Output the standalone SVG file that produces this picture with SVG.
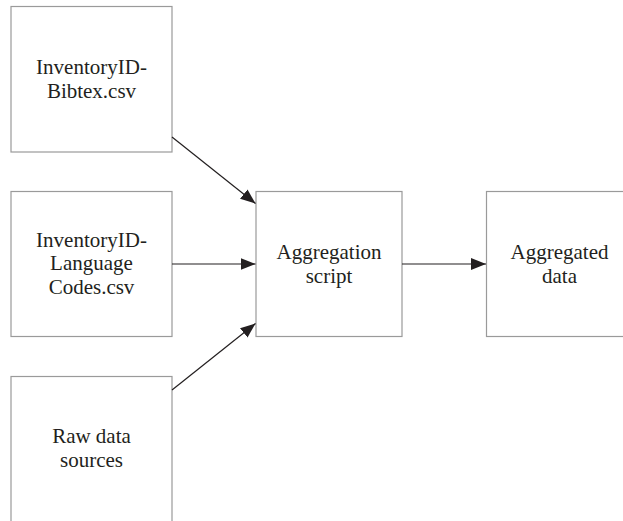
<svg xmlns="http://www.w3.org/2000/svg" width="623" height="521" viewBox="0 0 623 521">
<style>
.box{fill:#fff;stroke:#9a9a9a;stroke-width:1.2}
.lbl{font-family:"Liberation Serif","Times New Roman",serif;font-size:21px;fill:#231f20;text-anchor:middle}
.edge{stroke:#231f20;stroke-width:1.2;fill:none;marker-end:url(#ah)}
</style>
<defs>
<marker id="ah" markerUnits="userSpaceOnUse" markerWidth="16" markerHeight="12" refX="15" refY="6" orient="auto">
<path d="M0,0 L15,6 L0,12 Z" fill="#231f20"/>
</marker>
</defs>
<rect width="623" height="521" fill="#fff"/>
<g id="bibtex">
<rect class="box" x="11" y="6.5" width="161" height="145.5"/>
<text class="lbl" x="91.5" y="74">InventoryID-</text>
<text class="lbl" x="91.5" y="98">Bibtex.csv</text>
</g>
<g id="langcodes">
<rect class="box" x="11" y="191.5" width="161" height="145"/>
<text class="lbl" x="91.5" y="246.5">InventoryID-</text>
<text class="lbl" x="91.5" y="270">Language</text>
<text class="lbl" x="91.5" y="293.5">Codes.csv</text>
</g>
<g id="raw">
<rect class="box" x="11" y="376.5" width="161" height="146"/>
<text class="lbl" x="91.5" y="443">Raw data</text>
<text class="lbl" x="91.5" y="467">sources</text>
</g>
<g id="script">
<rect class="box" x="256" y="191.5" width="146" height="145"/>
<text class="lbl" x="329" y="259">Aggregation</text>
<text class="lbl" x="329" y="283">script</text>
</g>
<g id="aggdata">
<rect class="box" x="486.5" y="191.5" width="146" height="145"/>
<text class="lbl" x="559.5" y="259">Aggregated</text>
<text class="lbl" x="559.5" y="283">data</text>
</g>
<g id="connectors">
<line class="edge" x1="172" y1="137" x2="255.5" y2="203.5"/>
<line class="edge" x1="172" y1="264" x2="255.5" y2="264"/>
<line class="edge" x1="172" y1="390" x2="255.5" y2="323.5"/>
<line class="edge" x1="402" y1="264" x2="486" y2="264"/>
</g>
</svg>
